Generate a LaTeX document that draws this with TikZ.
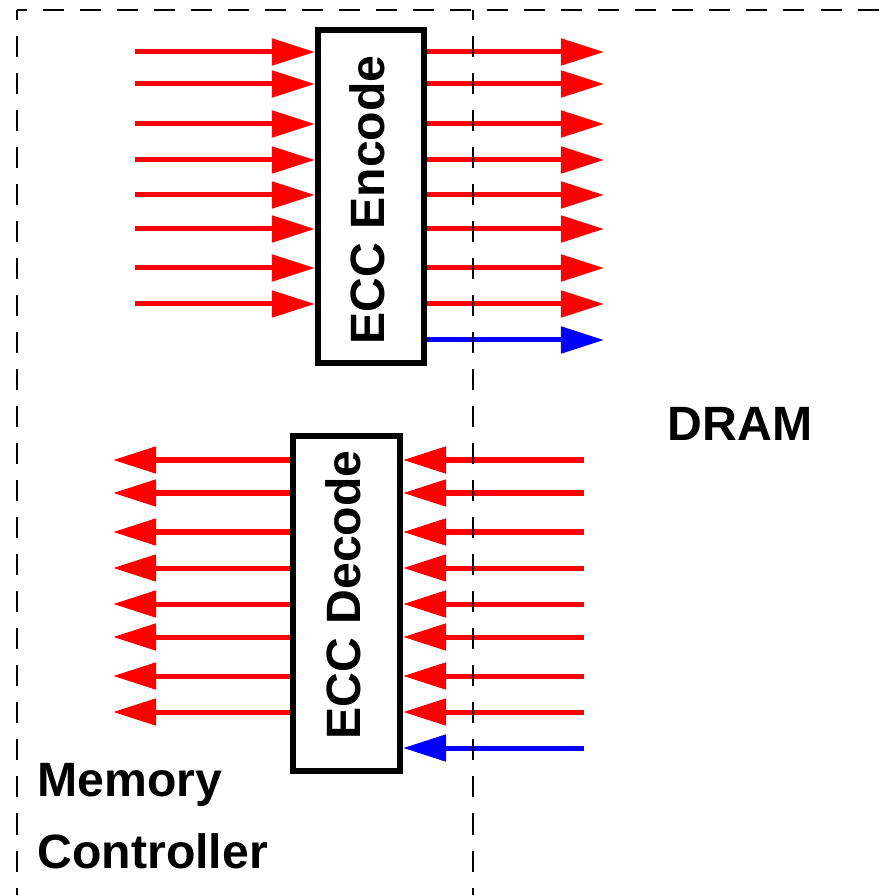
\documentclass[tikz,border=0pt]{standalone}
\usepackage{fontspec}
\setmainfont{Liberation Sans}
\usetikzlibrary{arrows.meta}
\definecolor{ECCRed}{HTML}{FF0000}
\definecolor{ECCBlue}{HTML}{0000FF}
\tikzset{
  eccbox/.style={
    draw=black,
    fill=white,
    line width=0.06cm,
    inner sep=0pt
  },
  ecclabel/.style={
    font=\fontsize{13.7}{20.2}\selectfont\bfseries,
    inner sep=0pt
  },
  eccflow/.style={-{Triangle[length=0.43cm,width=0.26cm]},draw=ECCRed,line width=0.05cm},
  eccparity/.style={eccflow,draw=ECCBlue},
  eccregion/.style={draw=black,line width=0.02cm,dash pattern=on 0.21cm off 0.16cm,dash phase=0.11cm}
}

\begin{document}
\begin{tikzpicture}[x=0.01cm,y=-0.01cm]
  \useasboundingbox (0,0) rectangle (888,895);
  \node[eccbox,minimum width=1.06cm,minimum height=3.33cm] (enc) at (371,196.5) {};
  \node[eccbox,minimum width=1.07cm,minimum height=3.35cm] (dec) at (346.5,603.5) {};
  \node[ecclabel,rotate=90] (enclabel) at (367,200) {ECC Encode};
  \node[ecclabel,rotate=90] (declabel) at (343,595) {ECC Decode};
  \node[ecclabel,anchor=base west] (dram) at (667,441) {DRAM};
  \node[ecclabel,anchor=base west,align=left] (mc) at (37,868) {Memory\\Controller};

  % data lines through the encoder
  \foreach \y [count=\i] in {52,84,124,160,195,229,268,304} {
    \coordinate (ein\i) at (135,\y);
    \coordinate (eout\i) at (604,\y);
    \draw[eccflow] (ein\i) -- (ein\i -| enc.west);
    \draw[eccflow] (eout\i -| enc.east) -- (eout\i);
  }
  \coordinate (echeck) at (604,340);
  \draw[eccparity] (echeck -| enc.east) -- (echeck);

  % data lines through the decoder
  \foreach \y [count=\i] in {460,493,532,568,604,637,676,712} {
    \coordinate (din\i) at (584,\y);
    \coordinate (dout\i) at (113,\y);
    \draw[eccflow] (din\i) -- (din\i -| dec.east);
    \draw[eccflow] (dout\i -| dec.west) -- (dout\i);
  }
  \coordinate (dcheck) at (584,748);
  \draw[eccparity] (dcheck) -- (dcheck -| dec.east);

  % memory controller / DRAM borders
  \draw[eccregion] (17,10) -- (888,10);
  \draw[eccregion] (17,10) -- (17,895);
  \draw[eccregion] (473,10) -- (473,895);
\end{tikzpicture}
\end{document}
